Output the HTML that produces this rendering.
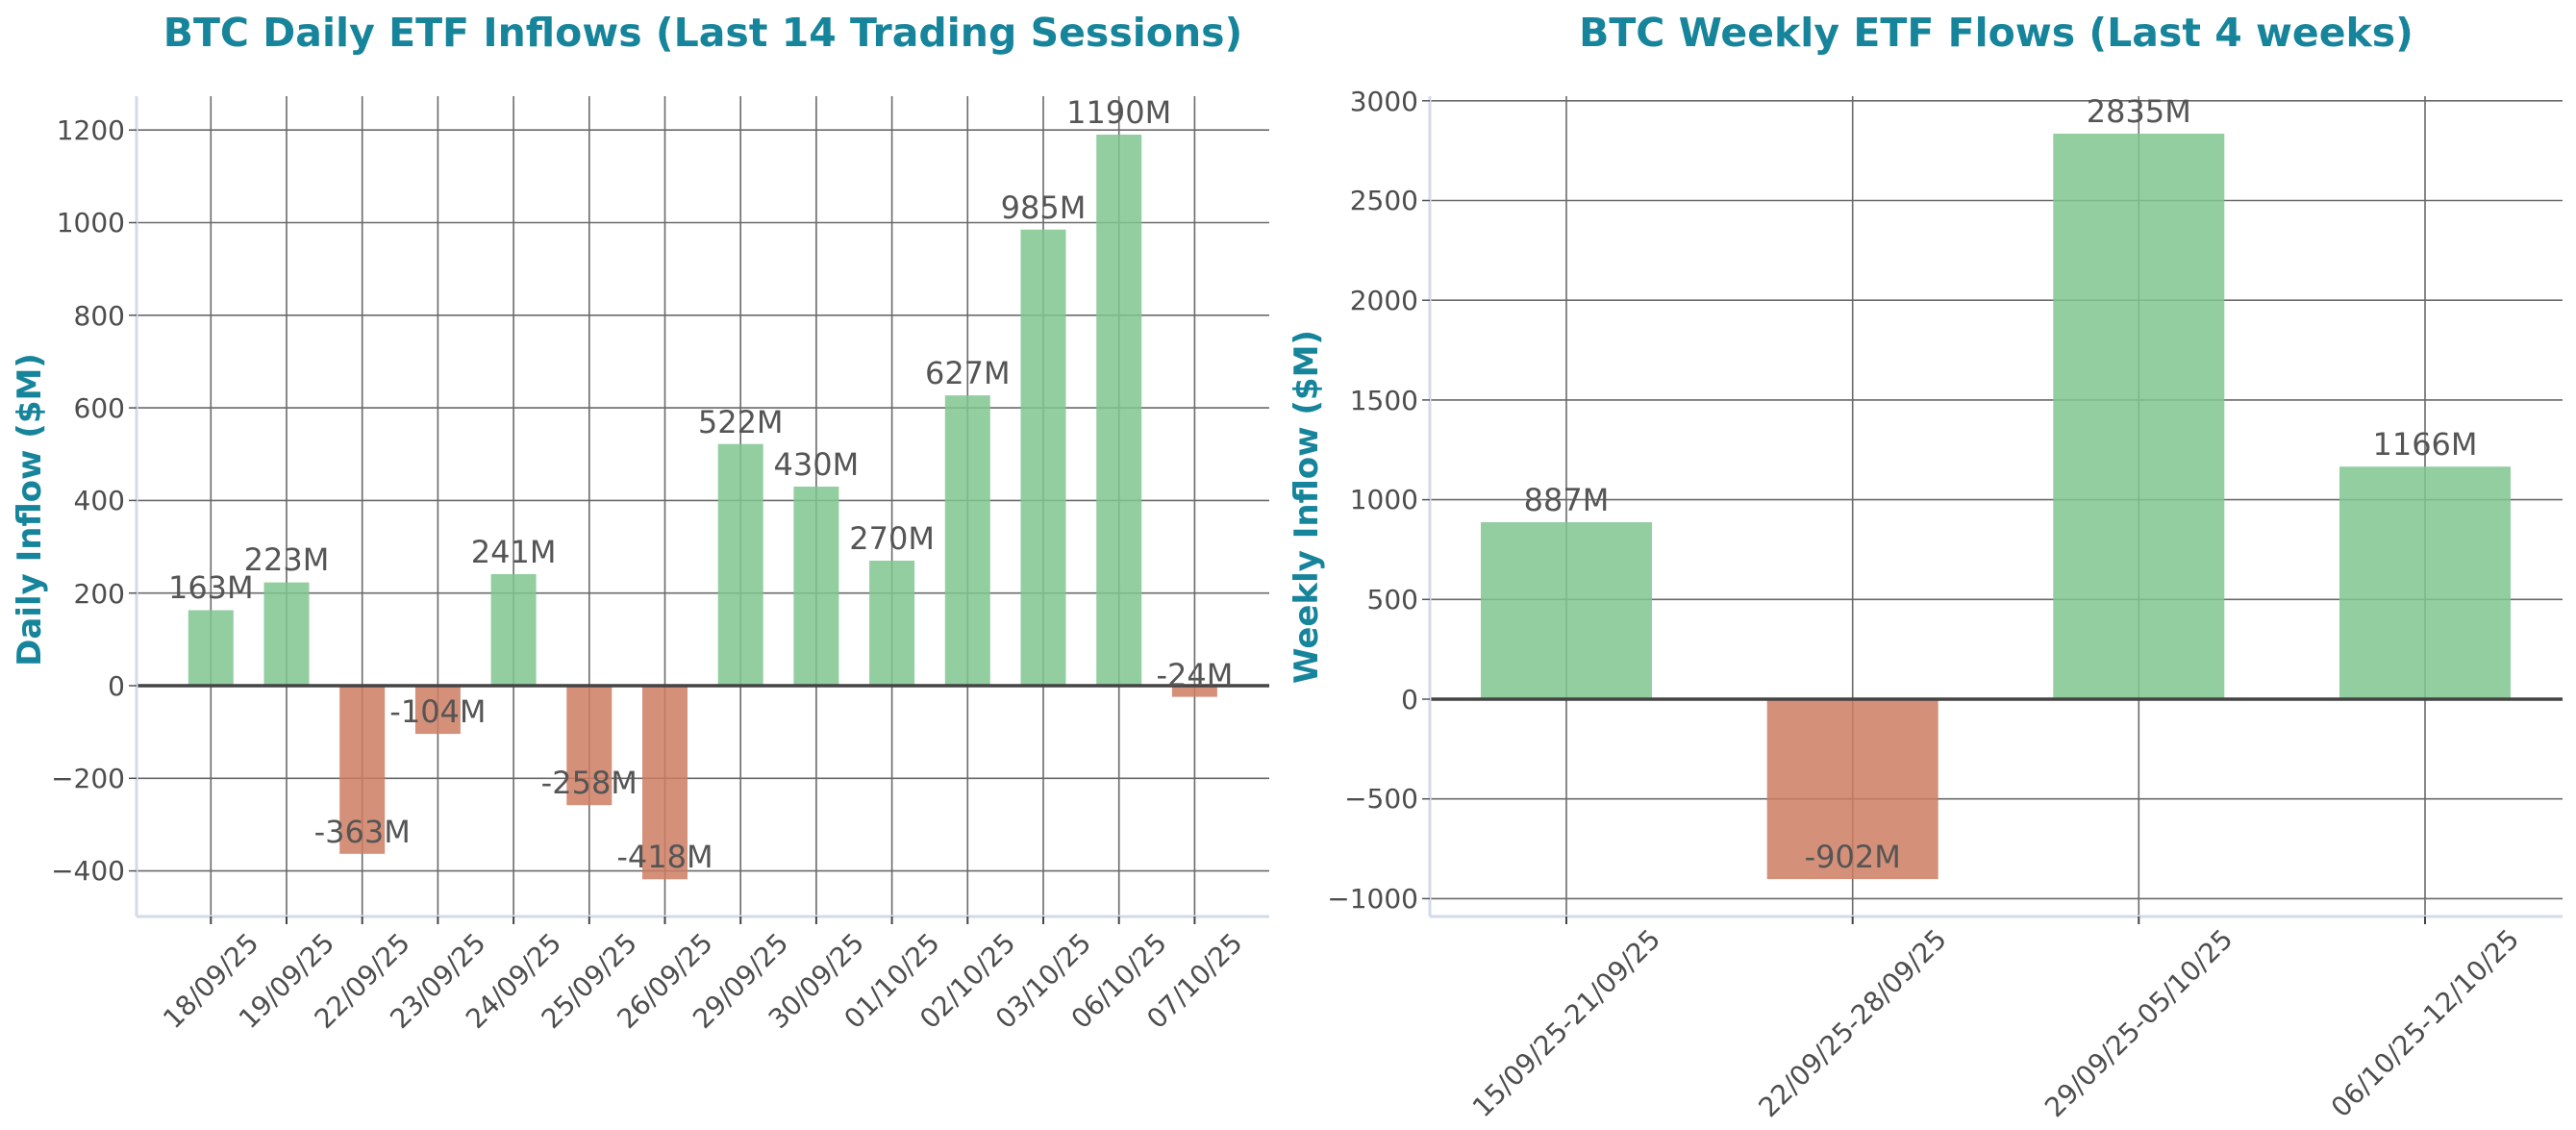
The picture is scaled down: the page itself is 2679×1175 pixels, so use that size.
<!DOCTYPE html>
<html><head><meta charset="utf-8"><style>
html,body{margin:0;padding:0;background:#fff;}
svg{display:block;font-family:"DejaVu Sans","Liberation Sans",sans-serif;}
.t{font-size:28px;fill:#4d4d4d;}
.v{font-size:32px;fill:#555;text-anchor:middle;}
.g{stroke:#6a6a6a;stroke-width:1.6;}
.ti{font-size:41px;font-weight:bold;fill:#16849a;text-anchor:middle;}
.yl{font-size:34px;font-weight:bold;fill:#16849a;text-anchor:middle;}
</style></head><body>
<svg width="2679" height="1175" viewBox="0 0 2679 1175" xmlns="http://www.w3.org/2000/svg">
<rect width="2679" height="1175" fill="#fff"/>
<text class="ti" x="731" y="48">BTC Daily ETF Inflows (Last 14 Trading Sessions)</text>
<text class="ti" x="2076" y="48">BTC Weekly ETF Flows (Last 4 weeks)</text>
<text class="yl" transform="translate(42,530) rotate(-90)">Daily Inflow ($M)</text>
<text class="yl" transform="translate(1370,527) rotate(-90)">Weekly Inflow ($M)</text>

<!-- LEFT grid -->
<g class="g">
<line x1="142" x2="1320" y1="905.6" y2="905.6"/><line x1="142" x2="1320" y1="809.3" y2="809.3"/>
<line x1="142" x2="1320" y1="616.7" y2="616.7"/><line x1="142" x2="1320" y1="520.4" y2="520.4"/>
<line x1="142" x2="1320" y1="424.1" y2="424.1"/><line x1="142" x2="1320" y1="327.8" y2="327.8"/>
<line x1="142" x2="1320" y1="231.5" y2="231.5"/><line x1="142" x2="1320" y1="135.2" y2="135.2"/>
<line x1="219.3" x2="219.3" y1="100" y2="953"/><line x1="298" x2="298" y1="100" y2="953"/>
<line x1="376.7" x2="376.7" y1="100" y2="953"/><line x1="455.4" x2="455.4" y1="100" y2="953"/>
<line x1="534.1" x2="534.1" y1="100" y2="953"/><line x1="612.8" x2="612.8" y1="100" y2="953"/>
<line x1="691.5" x2="691.5" y1="100" y2="953"/><line x1="770.2" x2="770.2" y1="100" y2="953"/>
<line x1="848.9" x2="848.9" y1="100" y2="953"/><line x1="927.6" x2="927.6" y1="100" y2="953"/>
<line x1="1006.3" x2="1006.3" y1="100" y2="953"/><line x1="1085" x2="1085" y1="100" y2="953"/>
<line x1="1163.7" x2="1163.7" y1="100" y2="953"/><line x1="1242.4" x2="1242.4" y1="100" y2="953"/>
</g>
<!-- LEFT bars -->
<g fill-opacity="0.85">
<rect x="195.8" y="634.5" width="47" height="78.5" fill="#80c590"/>
<rect x="274.5" y="605.6" width="47" height="107.4" fill="#80c590"/>
<rect x="353.2" y="713" width="47" height="174.8" fill="#cc7c62"/>
<rect x="431.9" y="713" width="47" height="50.1" fill="#cc7c62"/>
<rect x="510.6" y="597" width="47" height="116" fill="#80c590"/>
<rect x="589.3" y="713" width="47" height="124.2" fill="#cc7c62"/>
<rect x="668" y="713" width="47" height="201.3" fill="#cc7c62"/>
<rect x="746.7" y="461.7" width="47" height="251.3" fill="#80c590"/>
<rect x="825.4" y="506" width="47" height="207" fill="#80c590"/>
<rect x="904.1" y="583" width="47" height="130" fill="#80c590"/>
<rect x="982.8" y="411.1" width="47" height="301.9" fill="#80c590"/>
<rect x="1061.5" y="238.7" width="47" height="474.3" fill="#80c590"/>
<rect x="1140.2" y="140" width="47" height="573" fill="#80c590"/>
<rect x="1218.9" y="713" width="47" height="11.6" fill="#cc7c62"/>
</g>
<line x1="142" x2="1320" y1="713" y2="713" stroke="#444" stroke-width="3.5"/>
<line x1="142" x2="142" y1="100" y2="953" stroke="#d3dae9" stroke-width="3"/>
<line x1="142" x2="1320" y1="953" y2="953" stroke="#d3dae9" stroke-width="3"/>
<g stroke="#555" stroke-width="1.5">
<line x1="134" x2="142" y1="905.6" y2="905.6"/><line x1="134" x2="142" y1="809.3" y2="809.3"/><line x1="134" x2="142" y1="713" y2="713"/>
<line x1="134" x2="142" y1="616.7" y2="616.7"/><line x1="134" x2="142" y1="520.4" y2="520.4"/><line x1="134" x2="142" y1="424.1" y2="424.1"/>
<line x1="134" x2="142" y1="327.8" y2="327.8"/><line x1="134" x2="142" y1="231.5" y2="231.5"/><line x1="134" x2="142" y1="135.2" y2="135.2"/>
</g>
<g stroke="#444" stroke-width="2">
<line x1="219.3" x2="219.3" y1="953" y2="961"/><line x1="298" x2="298" y1="953" y2="961"/><line x1="376.7" x2="376.7" y1="953" y2="961"/>
<line x1="455.4" x2="455.4" y1="953" y2="961"/><line x1="534.1" x2="534.1" y1="953" y2="961"/><line x1="612.8" x2="612.8" y1="953" y2="961"/>
<line x1="691.5" x2="691.5" y1="953" y2="961"/><line x1="770.2" x2="770.2" y1="953" y2="961"/><line x1="848.9" x2="848.9" y1="953" y2="961"/>
<line x1="927.6" x2="927.6" y1="953" y2="961"/><line x1="1006.3" x2="1006.3" y1="953" y2="961"/><line x1="1085" x2="1085" y1="953" y2="961"/>
<line x1="1163.7" x2="1163.7" y1="953" y2="961"/><line x1="1242.4" x2="1242.4" y1="953" y2="961"/>
</g>
<g class="t" text-anchor="end">
<text x="130" y="915">−400</text><text x="130" y="819">−200</text><text x="130" y="723">0</text>
<text x="130" y="627">200</text><text x="130" y="530">400</text><text x="130" y="434">600</text>
<text x="130" y="338">800</text><text x="130" y="241">1000</text><text x="130" y="145">1200</text>
</g>
<g class="t" text-anchor="middle" dominant-baseline="central">
<text transform="translate(219.3,1020) rotate(-45)">18/09/25</text>
<text transform="translate(298,1020) rotate(-45)">19/09/25</text>
<text transform="translate(376.7,1020) rotate(-45)">22/09/25</text>
<text transform="translate(455.4,1020) rotate(-45)">23/09/25</text>
<text transform="translate(534.1,1020) rotate(-45)">24/09/25</text>
<text transform="translate(612.8,1020) rotate(-45)">25/09/25</text>
<text transform="translate(691.5,1020) rotate(-45)">26/09/25</text>
<text transform="translate(770.2,1020) rotate(-45)">29/09/25</text>
<text transform="translate(848.9,1020) rotate(-45)">30/09/25</text>
<text transform="translate(927.6,1020) rotate(-45)">01/10/25</text>
<text transform="translate(1006.3,1020) rotate(-45)">02/10/25</text>
<text transform="translate(1085,1020) rotate(-45)">03/10/25</text>
<text transform="translate(1163.7,1020) rotate(-45)">06/10/25</text>
<text transform="translate(1242.4,1020) rotate(-45)">07/10/25</text>
</g>
<g class="v">
<text x="219.3" y="622">163M</text><text x="298" y="593">223M</text><text x="376.7" y="876">-363M</text>
<text x="455.4" y="751">-104M</text><text x="534.1" y="585">241M</text><text x="612.8" y="825">-258M</text>
<text x="691.5" y="902">-418M</text><text x="770.2" y="450">522M</text><text x="848.9" y="494">430M</text>
<text x="927.6" y="571">270M</text><text x="1006.3" y="399">627M</text><text x="1085" y="227">985M</text>
<text x="1163.7" y="128">1190M</text><text x="1242.4" y="713">-24M</text>
</g>

<!-- RIGHT grid -->
<g class="g">
<line x1="1487" x2="2665" y1="934.4" y2="934.4"/><line x1="1487" x2="2665" y1="830.7" y2="830.7"/>
<line x1="1487" x2="2665" y1="623.3" y2="623.3"/><line x1="1487" x2="2665" y1="519.6" y2="519.6"/>
<line x1="1487" x2="2665" y1="415.9" y2="415.9"/><line x1="1487" x2="2665" y1="312.2" y2="312.2"/>
<line x1="1487" x2="2665" y1="208.5" y2="208.5"/><line x1="1487" x2="2665" y1="104.8" y2="104.8"/>
<line x1="1629" x2="1629" y1="100" y2="953"/><line x1="1926.7" x2="1926.7" y1="100" y2="953"/>
<line x1="2224.3" x2="2224.3" y1="100" y2="953"/><line x1="2522" x2="2522" y1="100" y2="953"/>
</g>
<g fill-opacity="0.85">
<rect x="1540" y="543" width="178" height="184" fill="#80c590"/>
<rect x="1837.7" y="727" width="178" height="187.1" fill="#cc7c62"/>
<rect x="2135.3" y="139" width="178" height="588" fill="#80c590"/>
<rect x="2433" y="485.2" width="178" height="241.8" fill="#80c590"/>
</g>
<line x1="1487" x2="2665" y1="727" y2="727" stroke="#444" stroke-width="3.5"/>
<line x1="1487" x2="1487" y1="100" y2="953" stroke="#d3dae9" stroke-width="3"/>
<line x1="1487" x2="2665" y1="953" y2="953" stroke="#d3dae9" stroke-width="3"/>
<g stroke="#555" stroke-width="1.5">
<line x1="1479" x2="1487" y1="934.4" y2="934.4"/><line x1="1479" x2="1487" y1="830.7" y2="830.7"/><line x1="1479" x2="1487" y1="727" y2="727"/>
<line x1="1479" x2="1487" y1="623.3" y2="623.3"/><line x1="1479" x2="1487" y1="519.6" y2="519.6"/><line x1="1479" x2="1487" y1="415.9" y2="415.9"/>
<line x1="1479" x2="1487" y1="312.2" y2="312.2"/><line x1="1479" x2="1487" y1="208.5" y2="208.5"/><line x1="1479" x2="1487" y1="104.8" y2="104.8"/>
</g>
<g stroke="#444" stroke-width="2">
<line x1="1629" x2="1629" y1="953" y2="961"/><line x1="1926.7" x2="1926.7" y1="953" y2="961"/>
<line x1="2224.3" x2="2224.3" y1="953" y2="961"/><line x1="2522" x2="2522" y1="953" y2="961"/>
</g>
<g class="t" text-anchor="end">
<text x="1475" y="944">−1000</text><text x="1475" y="840">−500</text><text x="1475" y="737">0</text>
<text x="1475" y="633">500</text><text x="1475" y="529">1000</text><text x="1475" y="426">1500</text>
<text x="1475" y="322">2000</text><text x="1475" y="218">2500</text><text x="1475" y="115">3000</text>
</g>
<g class="t" text-anchor="middle" dominant-baseline="central">
<text transform="translate(1629,1064) rotate(-45)">15/09/25-21/09/25</text>
<text transform="translate(1926.7,1064) rotate(-45)">22/09/25-28/09/25</text>
<text transform="translate(2224.3,1064) rotate(-45)">29/09/25-05/10/25</text>
<text transform="translate(2522,1064) rotate(-45)">06/10/25-12/10/25</text>
</g>
<g class="v">
<text x="1629" y="531">887M</text><text x="1926.7" y="902">-902M</text>
<text x="2224.3" y="127">2835M</text><text x="2522" y="473">1166M</text>
</g>
</svg>
</body></html>
